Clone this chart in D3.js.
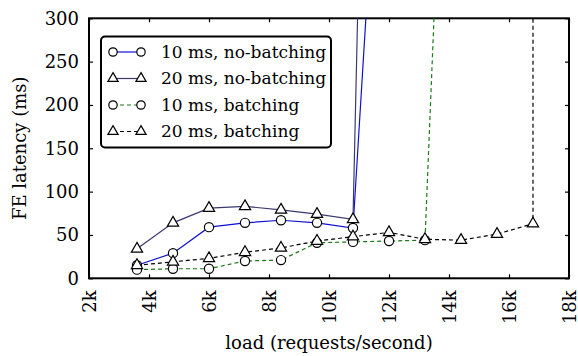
<!DOCTYPE html>
<html>
<head>
<meta charset="utf-8">
<script src="https://cdn.jsdelivr.net/npm/d3@7"></script>
<style>
  body { margin: 0; background: #fff; }
  text { font-family: "DejaVu Serif", "Liberation Serif", serif; }
</style>
</head>
<body>
<script>
// chart data
var loads10 = [3600, 4800, 6000, 7200, 8400, 9600, 10800, 12000];
var noBatch10 = [15, 29, 59, 64, 67, 64, 58, 735];
var loads20 = [3600, 4800, 6000, 7200, 8400, 9600, 10800, 12000];
var noBatch20 = [34, 64, 81, 83, 79, 74, 68, 1900];
var loadsB10 = [3600, 4800, 6000, 7200, 8400, 9600, 10800, 12000, 13200, 14400];
var batch10 = [10, 11, 11, 20, 21, 41, 42, 43, 44, 1070];
var loadsB20 = [3600, 4800, 6000, 7200, 8400, 9600, 10800, 12000, 13200, 14400, 15600, 16800, 16800];
var batch20 = [15, 19, 23, 30, 35, 43, 48, 53, 45, 44, 51, 63, 5000];
var xTicks = [2000, 4000, 6000, 8000, 10000, 12000, 14000, 16000, 18000];
var yTicks = [0, 50, 100, 150, 200, 250, 300];

var series = [
  { name: "10 ms, no-batching", x: loads10, y: noBatch10, color: "#1010d0", dash: null, marker: "circle" },
  { name: "20 ms, no-batching", x: loads20, y: noBatch20, color: "#3a3a70", dash: null, marker: "triangle" },
  { name: "10 ms, batching", x: loadsB10, y: batch10, color: "#1a7a1a", dash: "4,3", marker: "circle" },
  { name: "20 ms, batching", x: loadsB20, y: batch20, color: "#000", dash: "4,3", marker: "triangle" }
];

var width = 578, height = 356;
var pLeft = 89, pRight = 569, pTop = 18.3, pBottom = 278.3;

var svg = d3.select("body").append("svg")
  .attr("width", width)
  .attr("height", height);

var xscale = d3.scaleLinear().domain([2000, 18000]).range([pLeft, pRight]);
var yscale = d3.scaleLinear().domain([0, 300]).range([pBottom, pTop]);

svg.append("defs").append("clipPath").attr("id", "plot")
  .append("rect")
  .attr("x", pLeft).attr("y", pTop)
  .attr("width", pRight - pLeft).attr("height", pBottom - pTop);

// axes (ticks pointing inward)
var xaxis = d3.axisBottom(xscale).tickValues(xTicks)
  .tickFormat(function(d) { return (d / 1000) + "k"; })
  .tickSizeInner(-4).tickSizeOuter(0);
var gx = svg.append("g")
  .attr("transform", "translate(0," + pBottom + ")")
  .call(xaxis);
gx.select(".domain").remove();
gx.selectAll("text")
  .attr("transform", "rotate(-90)")
  .attr("x", -12).attr("y", 0).attr("dy", "0.35em")
  .style("text-anchor", "end")
  .style("font-size", "18px")
  .attr("fill", "#000");

var xtop = d3.axisTop(xscale).tickValues(xTicks).tickFormat("")
  .tickSizeInner(-4).tickSizeOuter(0);
var gxt = svg.append("g").attr("transform", "translate(0," + pTop + ")").call(xtop);
gxt.select(".domain").remove();

var yaxis = d3.axisLeft(yscale).tickValues(yTicks)
  .tickSizeInner(-4).tickSizeOuter(0).tickPadding(10);
var gy = svg.append("g")
  .attr("transform", "translate(" + pLeft + ",0)")
  .call(yaxis);
gy.select(".domain").remove();
gy.selectAll("text").style("font-size", "18px").attr("fill", "#000");

var yright = d3.axisRight(yscale).tickValues(yTicks).tickFormat("")
  .tickSizeInner(-4).tickSizeOuter(0);
var gyr = svg.append("g").attr("transform", "translate(" + pRight + ",0)").call(yright);
gyr.select(".domain").remove();

svg.selectAll(".tick line").attr("stroke", "#000").attr("stroke-width", 1.2);

// frame
svg.append("rect")
  .attr("x", pLeft).attr("y", pTop)
  .attr("width", pRight - pLeft).attr("height", pBottom - pTop)
  .attr("fill", "none").attr("stroke", "#000").attr("stroke-width", 2);

// lines
var plot = svg.append("g").attr("clip-path", "url(#plot)");
var tri = d3.symbol().type(d3.symbolTriangle).size(55);

series.forEach(function(s) {
  var pts = s.x.map(function(v, i) { return [v, s.y[i]]; });
  plot.append("path")
    .datum(pts)
    .attr("fill", "none")
    .attr("stroke", s.color)
    .attr("stroke-width", 1.2)
    .attr("stroke-dasharray", s.dash)
    .attr("d", d3.line()
      .x(function(d) { return xscale(d[0]); })
      .y(function(d) { return yscale(d[1]); }));
});

// markers
series.forEach(function(s) {
  var pts = s.x.map(function(v, i) { return [v, s.y[i]]; });
  var m = plot.selectAll(null).data(pts).enter();
  if (s.marker === "circle") {
    m.append("circle")
      .attr("cx", function(d) { return xscale(d[0]); })
      .attr("cy", function(d) { return yscale(d[1]); })
      .attr("r", 4.6)
      .attr("fill", "#fff").attr("stroke", "#000").attr("stroke-width", 1.2);
  } else {
    m.append("path")
      .attr("d", tri)
      .attr("transform", function(d) { return "translate(" + xscale(d[0]) + "," + yscale(d[1]) + ")"; })
      .attr("fill", "#fff").attr("stroke", "#000").attr("stroke-width", 1.2);
  }
});

// legend
var legend = svg.append("g");
legend.append("rect")
  .attr("x", 101).attr("y", 36.5)
  .attr("width", 230).attr("height", 111)
  .attr("rx", 4).attr("ry", 4)
  .attr("fill", "#fff").attr("stroke", "#000").attr("stroke-width", 2);

series.forEach(function(s, i) {
  var yy = 52 + i * 26.5;
  var g = legend.append("g");
  g.append("line")
    .attr("x1", 113).attr("x2", 141).attr("y1", yy).attr("y2", yy)
    .attr("stroke", s.color).attr("stroke-width", 1.2)
    .attr("stroke-dasharray", s.dash);
  [113, 141].forEach(function(cx) {
    if (s.marker === "circle") {
      g.append("circle").attr("cx", cx).attr("cy", yy).attr("r", 4.2)
        .attr("fill", "#fff").attr("stroke", "#000").attr("stroke-width", 1.2);
    } else {
      g.append("path").attr("d", d3.symbol().type(d3.symbolTriangle).size(45))
        .attr("transform", "translate(" + cx + "," + yy + ")")
        .attr("fill", "#fff").attr("stroke", "#000").attr("stroke-width", 1.2);
    }
  });
  g.append("text")
    .attr("x", 161).attr("y", yy).attr("dy", "0.35em")
    .style("font-size", "17px")
    .text(s.name);
});

// axis titles
svg.append("text")
  .attr("x", (pLeft + pRight) / 2).attr("y", 349)
  .style("text-anchor", "middle").style("font-size", "18px")
  .text("load (requests/second)");

svg.append("text")
  .attr("transform", "translate(26," + ((pTop + pBottom) / 2) + ") rotate(-90)")
  .style("text-anchor", "middle").style("font-size", "18px")
  .text("FE latency (ms)");
</script>
</body>
</html>
